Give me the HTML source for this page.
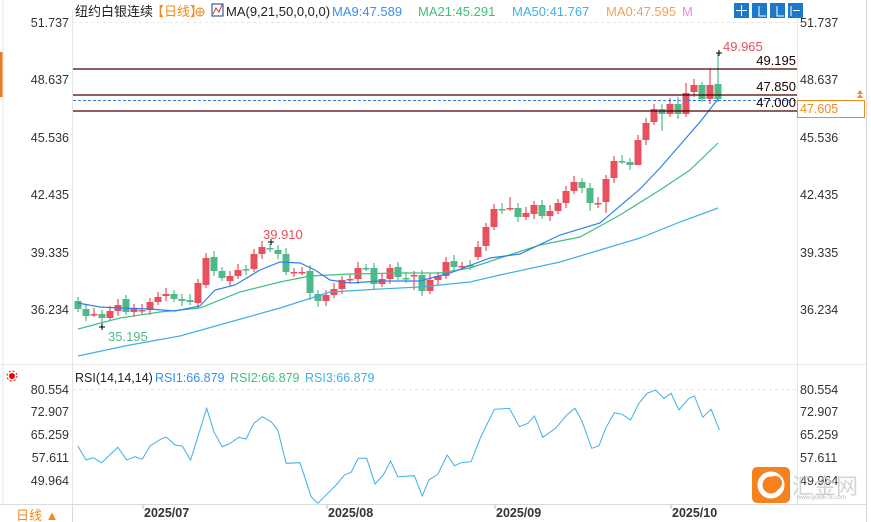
<!DOCTYPE html>
<html><head><meta charset="utf-8"><style>
body{margin:0;background:#fff;font-family:"Liberation Sans","Noto Sans CJK SC",sans-serif;}
svg{display:block}
</style></head><body>
<svg id="s" width="871" height="522" xmlns="http://www.w3.org/2000/svg" font-family="Liberation Sans, Noto Sans CJK SC, sans-serif">
<rect width="871" height="522" fill="#fff"/>
<rect x="0" y="52" width="3" height="45" fill="#f07b1c"/>
<line x1="3" y1="0" x2="3" y2="505" stroke="#e4e6ea"/>
<line x1="72.5" y1="10" x2="72.5" y2="505" stroke="#e4e6ea"/>
<line x1="797.5" y1="10" x2="797.5" y2="505" stroke="#e4e6ea"/>
<line x1="866.5" y1="0" x2="866.5" y2="522" stroke="#d8dade"/>
<line x1="0" y1="364.5" x2="866" y2="364.5" stroke="#e4e6ea"/>
<line x1="0" y1="504.5" x2="866" y2="504.5" stroke="#d8dade"/>
<line x1="73" y1="22.5" x2="797" y2="22.5" stroke="#e6e6e6" stroke-dasharray="3,3"/>
<line x1="73" y1="389.5" x2="797" y2="389.5" stroke="#e6e6e6" stroke-dasharray="3,3"/>
<g id="cd"></g>
<g id="ln"></g>
<!-- horizontal levels -->
<g stroke="#4a0000" stroke-width="1.3">
<line x1="73" y1="69" x2="797" y2="69"/><line x1="73" y1="95" x2="797" y2="95"/><line x1="73" y1="111" x2="797" y2="111"/>
</g>
<line x1="73" y1="100.5" x2="797" y2="100.5" stroke="#2f80ed" stroke-dasharray="3,2"/>
<g font-size="13" fill="#1a0000" text-anchor="end">
<text x="796" y="65">49.195</text><text x="796" y="91">47.850</text><text x="796" y="107">47.000</text>
</g>
<text x="723" y="51" font-size="13" fill="#e5505e">49.965</text>
<text x="263" y="239" font-size="13" fill="#e5505e">39.910</text>
<text x="108" y="341" font-size="13" fill="#4fb98a">35.195</text>
<path d="M716 53h6M719 50v6M268 242h6M271 239v6M99 327h6M102 324v6" stroke="#000"/>
<!-- axes labels -->
<g font-size="12.5" fill="#333" text-anchor="end">
<text x="69" y="27">51.737</text><text x="69" y="84">48.637</text><text x="69" y="142">45.536</text><text x="69" y="199">42.435</text><text x="69" y="257">39.335</text><text x="69" y="314">36.234</text>
<text x="69" y="394">80.554</text><text x="69" y="416">72.907</text><text x="69" y="439">65.259</text><text x="69" y="462">57.611</text><text x="69" y="485">49.964</text>
</g>
<g font-size="12.5" fill="#333">
<text x="800" y="27">51.737</text><text x="800" y="84">48.637</text><text x="800" y="142">45.536</text><text x="800" y="199">42.435</text><text x="800" y="257">39.335</text><text x="800" y="314">36.234</text>
<text x="800" y="394">80.554</text><text x="800" y="416">72.907</text><text x="800" y="439">65.259</text><text x="800" y="462">57.611</text><text x="800" y="485">49.964</text>
</g>
<rect x="797.5" y="100.5" width="67" height="17" fill="#fff" stroke="#f08a1c"/>
<text x="800" y="113" font-size="12.5" fill="#f08a1c">47.605</text>
<path d="M857 94l3-4 3 4zM857 98l3-4 3 4z" fill="#f08a1c"/>
<!-- header -->
<text x="75" y="16" font-size="13" fill="#222">纽约白银连续</text>
<text x="151" y="16" font-size="13" fill="#f08a1c">【日线】</text>
<circle cx="200" cy="12" r="4" fill="none" stroke="#f08a1c"/><path d="M196 12h8M200 8v8" stroke="#f08a1c"/>
<rect x="212" y="4" width="11" height="12" fill="#fff" stroke="#1e3a8a"/><path d="M213 14l3-6 3 4 3-7" stroke="#d33" fill="none"/>
<text x="226" y="16" font-size="13" fill="#222">MA(9,21,50,0,0,0)</text>
<text x="332" y="16" font-size="13" fill="#3b8ff0">MA9:47.589</text>
<text x="418" y="16" font-size="13" fill="#3fbf7f">MA21:45.291</text>
<text x="512" y="16" font-size="13" fill="#3fb0e8">MA50:41.767</text>
<text x="606" y="16" font-size="13" fill="#f5a05a">MA0:47.595</text>
<text x="682" y="16" font-size="13" fill="#f08ad8">M</text>
<g fill="#1c78c8"><rect x="734" y="3" width="15" height="15"/><rect x="752" y="3" width="15" height="15"/><rect x="770" y="3" width="15" height="15"/><rect x="788" y="3" width="15" height="15"/></g>
<g stroke="#fff" fill="none"><path d="M741.5 5v11M736 10.5h11M759 6v10h7M777 6v10h7M791 6v10M793 10.5h7"/></g>
<!-- RSI header -->
<circle cx="12" cy="376" r="3" fill="#e00"/><circle cx="12" cy="376" r="5" fill="none" stroke="#e00" stroke-dasharray="2,2"/>
<text x="75" y="382" font-size="12.5" fill="#222">RSI(14,14,14)</text>
<text x="155" y="382" font-size="12.5" fill="#3b8ff0">RSI1:66.879</text>
<text x="230" y="382" font-size="12.5" fill="#3fbf7f">RSI2:66.879</text>
<text x="305" y="382" font-size="12.5" fill="#3fb0e8">RSI3:66.879</text>
<!-- date axis -->
<g font-size="12.5" font-weight="bold" fill="#333">
<text x="144" y="517">2025/07</text><text x="328" y="517">2025/08</text><text x="496" y="517">2025/09</text><text x="672" y="517">2025/10</text>
</g>
<g stroke="#bbb"><line x1="143" y1="505" x2="143" y2="509"/><line x1="327" y1="505" x2="327" y2="509"/><line x1="495" y1="505" x2="495" y2="509"/><line x1="671" y1="505" x2="671" y2="509"/></g>
<line x1="72.5" y1="505" x2="72.5" y2="522" stroke="#d8dade"/>
<text x="16" y="520" font-size="13" fill="#f08a1c">日线 ▲</text>
<!-- watermark -->
<rect x="752" y="467" width="38" height="36" rx="5" fill="#f5821f"/>
<circle cx="771" cy="485" r="11" fill="none" stroke="#fff" stroke-width="5"/>
<circle cx="775" cy="483" r="7" fill="#f5821f"/>
<text x="792" y="494" font-size="22" fill="#c9c9c9" opacity="0.8">汇金网</text>
<text x="797" y="499" font-size="6" fill="#bbb">www.gold678.com</text>
</svg>
<script>
var C=[["g",301,309],["g",309,316],["r",314,314],["g",314,318],["r",311,318],["r",305,311],["g",299,312],["r",309,312],["r",310,311],["r",302,310],["r",297,302],["r",294,296],["g",294,299],["g",299,301],["g",300,302],["r",283,303],["r",258,285],["g",257,271],["g",271,278],["r",276,281],["r",270,276],["g",269,270],["r",254,269],["r",247,254],["g",248,249],["g",250,254],["g",254,272],["r",272,272],["r",272,272],["g",271,293],["g",294,301],["r",295,301],["r",289,295],["r",280,289],["r",279,280],["r",268,279],["g",268,268],["g",268,284],["r",279,284],["r",268,279],["g",267,277],["g",278,278],["r",275,276],["g",275,291],["r",280,291],["r",276,280],["r",262,276],["g",261,267],["r",266,266],["g",265,265],["r",247,257],["r",227,246],["r",209,227],["g",209,209],["r",208,208],["g",208,217],["r",213,217],["r",205,214],["g",205,216],["r",211,216],["r",203,211],["r",191,203],["r",182,191],["g",182,188],["g",188,203],["r",203,203],["r",179,202],["r",161,178],["g",161,161],["g",162,165],["r",140,165],["r",123,140],["r",109,122],["g",109,114],["r",104,114],["g",104,114],["r",93,114],["r",85,92],["g",85,99],["r",85,99],["g",84,99]];
var W={79:69,80:53,76:83,75:97,74:98,78:82,73:131,72:104,3:327,2:308,29:300,30:307,6:315,42:290,54:197,66:213,64:211,71:118,70:145};
var h="";
C.forEach(function(c,i){var x=78+8*i,col=c[0]=="r"?"#e8505e":"#4fb98a";var t=c[1],b=c[2];var hi=t-4-(i%3),lo=b+3+(i%2)*2;if(W[i]!==undefined){if(W[i]<t)hi=W[i];else lo=W[i];}
h+='<line x1="'+x+'" y1="'+hi+'" x2="'+x+'" y2="'+lo+'" stroke="'+col+'" stroke-width="1.2"/>';
h+='<rect x="'+(x-3.5)+'" y="'+t+'" width="7" height="'+Math.max(1.5,b-t)+'" fill="'+col+'"/>';});
document.getElementById("cd").innerHTML=h;
function pl(p,c,w){return '<polyline fill="none" stroke="'+c+'" stroke-width="'+(w||1.2)+'" points="'+p+'"/>';}
var ma9="78,303 100,307 120,308 150,309 175,311 200,306 215,290 235,285 260,270 280,262 300,263 315,270 330,280 350,283 380,281 420,281 450,273 490,258 520,254 560,235 600,223 640,189 660,168 680,145 700,122 718,99";
var ma21="78,329 120,318 160,312 200,308 240,292 280,282 310,276 350,274 400,273 440,273 470,268 500,258 540,245 580,237 620,215 660,190 690,170 718,143";
var ma50="78,356 130,345 180,336 230,322 280,308 330,292 380,289 420,287 440,285 470,282 500,275 560,262 600,250 640,238 680,222 718,208";
var R=[[140,258],[155,300],[168,293],[183,308],[212,262],[228,300],[243,290],[256,298],[270,258],[292,235],[300,232],[315,255],[328,258],[343,300],[358,220],[372,145],[385,215],[400,260],[412,252],[430,232],[443,237],[457,190],[472,170],[488,185],[500,210],[515,310],[540,308],[560,410],[572,430],[590,400],[605,375],[620,345],[632,337],[645,295],[660,295],[675,372],[690,345],[703,303],[716,350],[746,347],[760,408],[772,360],[788,343],[805,285],[818,317],[830,308],[848,305],[865,232],[890,148],[917,145],[935,200],[950,190],[962,168],[977,232],[1000,205],[1020,165],[1035,145],[1048,185],[1065,265],[1078,258],[1090,205],[1106,158],[1120,163],[1135,180],[1150,130],[1165,100],[1180,90],[1195,115],[1208,100],[1222,150],[1240,115],[1250,108],[1265,172],[1280,148],[1295,210]];
var rs=R.map(function(p){return (p[0]/1.8).toFixed(1)+","+(360+p[1]/3).toFixed(1)}).join(" ");
document.getElementById("ln").innerHTML=pl(ma50,"#3fb0e8")+pl(ma21,"#3fbf7f")+pl(ma9,"#2f80ed")+pl(rs,"#3fb0e8",1);
</script>
</body></html>
